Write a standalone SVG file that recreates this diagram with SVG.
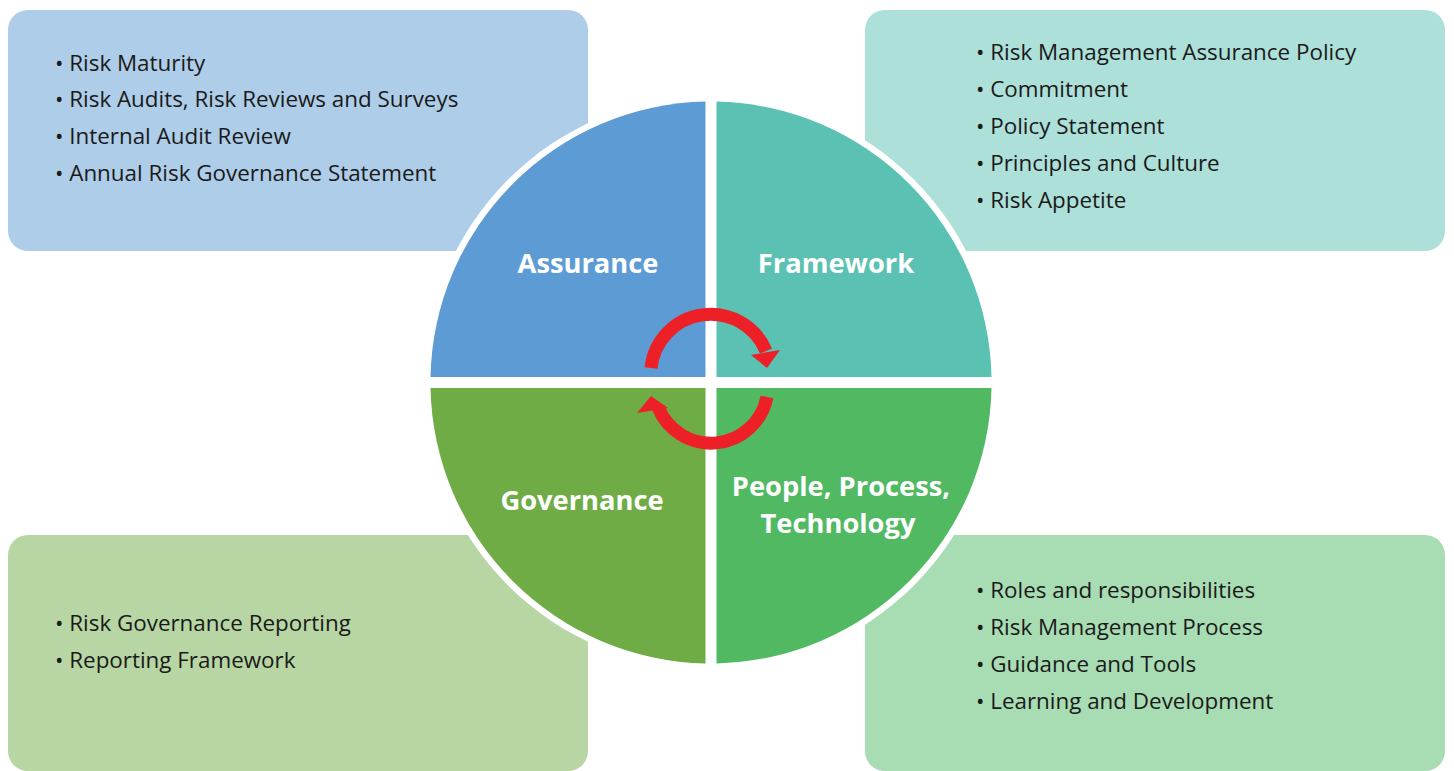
<svg xmlns="http://www.w3.org/2000/svg" width="1454" height="771" viewBox="0 0 1454 771">
<style>
.item{font-family:"Open Sans","Noto Sans","Liberation Sans",sans-serif;font-size:22.4px;fill:#1a1a1a}
.lbl{font-family:"Open Sans","Noto Sans","Liberation Sans",sans-serif;font-size:27.3px;font-weight:bold;fill:#ffffff;text-anchor:middle}
.arc{fill:none;stroke:#ed2027;stroke-width:13}
.head{fill:#ed2027}
</style>
<rect width="1454" height="771" fill="#ffffff"/>
<g id="box-assurance">
<rect x="8" y="10" width="580" height="241" rx="20" fill="#aecde8"/>
<text class="item" x="55" y="71">• Risk Maturity</text>
<text class="item" x="55" y="107">• Risk Audits, Risk Reviews and Surveys</text>
<text class="item" x="55" y="144">• Internal Audit Review</text>
<text class="item" x="55" y="181">• Annual Risk Governance Statement</text>
</g>
<g id="box-framework">
<rect x="865" y="10" width="580" height="241" rx="20" fill="#ade0d9"/>
<text class="item" x="976" y="60">• Risk Management Assurance Policy</text>
<text class="item" x="976" y="97">• Commitment</text>
<text class="item" x="976" y="134">• Policy Statement</text>
<text class="item" x="976" y="171">• Principles and Culture</text>
<text class="item" x="976" y="208">• Risk Appetite</text>
</g>
<g id="box-governance">
<rect x="8" y="535" width="580" height="236" rx="20" fill="#b7d6a3"/>
<text class="item" x="55" y="631">• Risk Governance Reporting</text>
<text class="item" x="55" y="668">• Reporting Framework</text>
</g>
<g id="box-people">
<rect x="865" y="535" width="580" height="236" rx="20" fill="#a8dcb3"/>
<text class="item" x="976" y="598">• Roles and responsibilities</text>
<text class="item" x="976" y="635">• Risk Management Process</text>
<text class="item" x="976" y="672">• Guidance and Tools</text>
<text class="item" x="976" y="709">• Learning and Development</text>
</g>
<circle cx="711" cy="382.5" r="287" fill="#ffffff"/>
<g id="quad-assurance">
<path d="M705.5 377 L705.5 101.6 A281 281 0 0 0 430.5 377 Z" fill="#5c9bd4"/>
<text class="lbl" x="588" y="273">Assurance</text>
</g>
<g id="quad-framework">
<path d="M716.5 377 L716.5 101.6 A281 281 0 0 1 991.5 377 Z" fill="#5bc2b3"/>
<text class="lbl" x="836" y="273">Framework</text>
</g>
<g id="quad-governance">
<path d="M705.5 388 L705.5 663.4 A281 281 0 0 1 430.5 388 Z" fill="#70ac46"/>
<text class="lbl" x="582" y="510">Governance</text>
</g>
<g id="quad-people">
<path d="M716.5 388 L716.5 663.4 A281 281 0 0 0 991.5 388 Z" fill="#52b963"/>
<text class="lbl" x="841" y="496">People, Process,</text>
<text class="lbl" x="838" y="533">Technology</text>
</g>
<g id="connectors">
<path class="arc" d="M651 368 A60 60 0 0 1 766 351"/>
<polygon class="head" points="751,355 780,350 767,368"/>
<path class="arc" d="M767 397 A57 57 0 0 1 658 407"/>
<polygon class="head" points="637,413 651,396 668,408"/>
</g>
</svg>
